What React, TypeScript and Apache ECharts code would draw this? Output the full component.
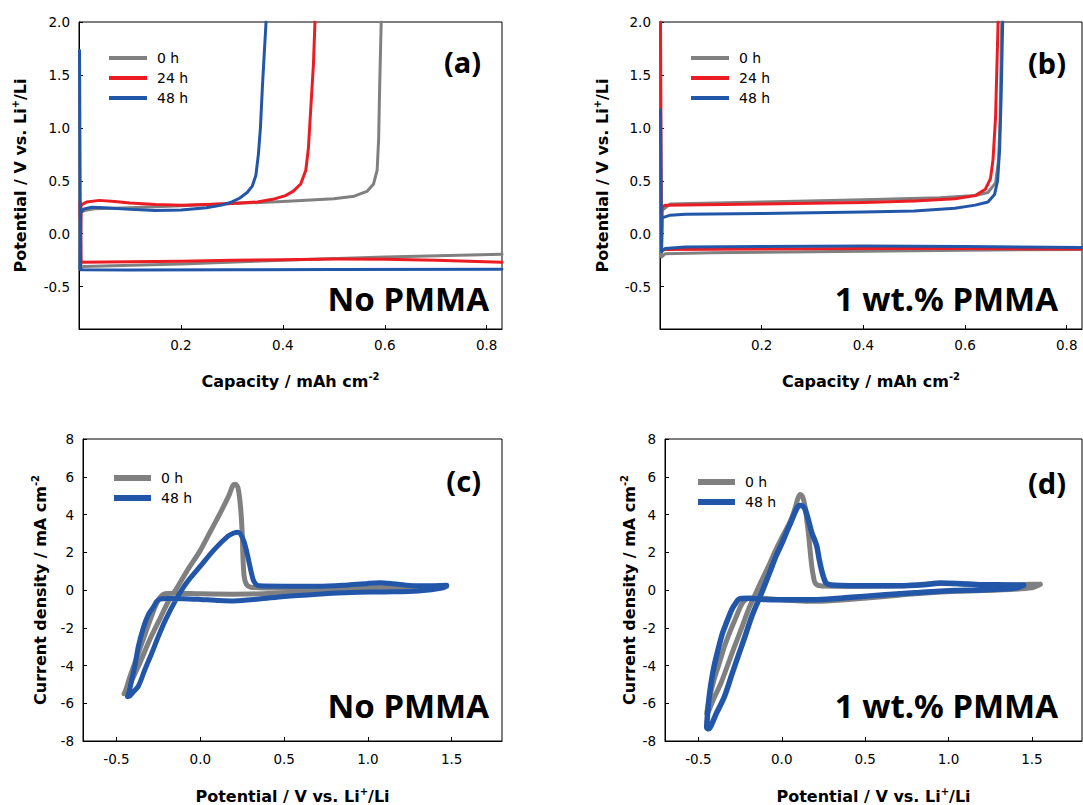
import React, { useEffect, useRef } from "react";
import * as echarts from "echarts";

// ---------- data ----------
const capXTicks = [0.2, 0.4, 0.6, 0.8];
const capYTicks = [-0.5, 0, 0.5, 1, 1.5, 2];
const cvXTicks = [-0.5, 0, 0.5, 1, 1.5];
const legendGalv = ["0 h", "24 h", "48 h"];
const legendCV = ["0 h", "48 h"];

// (a) No PMMA – plating branches
const aPlate0h = [[0.002, 0.2], [0.004, -0.32], [0.01, -0.31], [0.2, -0.285], [0.4, -0.25], [0.6, -0.22], [0.83, -0.195]];
const aPlate24h = [[0.002, 0.3], [0.004, -0.27], [0.1, -0.265], [0.2, -0.26], [0.3, -0.25], [0.4, -0.245], [0.5, -0.238], [0.6, -0.24], [0.7, -0.25], [0.83, -0.27]];
const aPlate48h = [[0.001, 1.73], [0.003, -0.34], [0.1, -0.342], [0.3, -0.34], [0.5, -0.338], [0.83, -0.335]];
// (a) No PMMA – stripping branches
const aStrip0h = [[0.003, -0.3], [0.004, 0.2], [0.01, 0.22], [0.03, 0.235], [0.1, 0.245], [0.2, 0.265], [0.3, 0.285], [0.4, 0.305], [0.5, 0.33], [0.54, 0.355], [0.565, 0.4], [0.578, 0.47], [0.585, 0.6], [0.588, 0.9], [0.59, 1.4], [0.593, 2.0]];
const aStrip24h = [[0.003, -0.27], [0.004, 0.27], [0.015, 0.3], [0.04, 0.315], [0.07, 0.305], [0.1, 0.29], [0.15, 0.275], [0.2, 0.27], [0.25, 0.275], [0.3, 0.285], [0.35, 0.3], [0.38, 0.325], [0.405, 0.36], [0.42, 0.4], [0.435, 0.47], [0.445, 0.6], [0.45, 0.8], [0.455, 1.2], [0.46, 1.6], [0.463, 2.0]];
const aStrip48h = [[0.002, -0.34], [0.003, 0.2], [0.01, 0.235], [0.025, 0.25], [0.05, 0.245], [0.1, 0.23], [0.15, 0.22], [0.2, 0.225], [0.25, 0.245], [0.28, 0.27], [0.3, 0.3], [0.315, 0.335], [0.33, 0.39], [0.34, 0.45], [0.347, 0.55], [0.352, 0.75], [0.356, 1.0], [0.36, 1.4], [0.367, 2.0]];

// (b) 1 wt.% PMMA – plating branches
const bPlate0h = [[0.002, 0.22], [0.003, -0.22], [0.01, -0.19], [0.1, -0.18], [0.2, -0.175], [0.4, -0.165], [0.6, -0.155], [0.83, -0.148]];
const bPlate24h = [[0.001, 2.0], [0.003, -0.15], [0.01, -0.15], [0.2, -0.145], [0.4, -0.14], [0.6, -0.14], [0.83, -0.145]];
const bPlate48h = [[0.001, 1.17], [0.003, -0.17], [0.01, -0.14], [0.05, -0.125], [0.2, -0.12], [0.4, -0.115], [0.6, -0.12], [0.83, -0.13]];
// (b) 1 wt.% PMMA – stripping branches
const bStrip0h = [[0.003, -0.2], [0.004, 0.22], [0.02, 0.28], [0.2, 0.3], [0.4, 0.32], [0.55, 0.34], [0.62, 0.36], [0.645, 0.39], [0.66, 0.48], [0.666, 0.7], [0.669, 1.1], [0.672, 2.0]];
const bStrip24h = [[0.003, -0.15], [0.004, 0.25], [0.01, 0.27], [0.2, 0.28], [0.4, 0.295], [0.5, 0.31], [0.58, 0.33], [0.62, 0.36], [0.64, 0.42], [0.65, 0.52], [0.655, 0.7], [0.66, 1.1], [0.665, 2.0]];
const bStrip48h = [[0.003, -0.15], [0.004, 0.15], [0.02, 0.175], [0.05, 0.185], [0.2, 0.19], [0.4, 0.205], [0.5, 0.215], [0.58, 0.24], [0.62, 0.27], [0.645, 0.3], [0.658, 0.37], [0.664, 0.5], [0.668, 0.8], [0.671, 1.3], [0.674, 2.0]];

// (c) CV No PMMA
const cCV0h = [[1.47, 0.18], [1.4, 0.08], [1.2, 0.0], [1.0, -0.03], [0.8, -0.08], [0.6, -0.14], [0.4, -0.19], [0.2, -0.22], [0.0, -0.2], [-0.15, -0.17], [-0.2, -0.18], [-0.225, -0.25], [-0.245, -0.45], [-0.27, -0.9], [-0.3, -1.6], [-0.34, -2.6], [-0.38, -3.6], [-0.42, -4.6], [-0.445, -5.3], [-0.455, -5.5], [-0.445, -5.45], [-0.41, -4.8], [-0.36, -3.85], [-0.3, -2.6], [-0.24, -1.5], [-0.19, -0.6], [-0.14, 0.1], [-0.08, 1.0], [0.0, 2.1], [0.06, 3.1], [0.12, 4.1], [0.17, 5.0], [0.195, 5.55], [0.21, 5.6], [0.225, 5.4], [0.24, 4.4], [0.25, 3.0], [0.255, 1.6], [0.262, 0.7], [0.275, 0.3], [0.3, 0.15], [0.4, 0.1], [0.6, 0.06], [0.8, 0.08], [1.0, 0.12], [1.1, 0.14], [1.3, 0.16], [1.47, 0.18]];
const cCV48h = [[1.47, 0.25], [1.45, 0.12], [1.3, -0.05], [1.1, -0.1], [0.9, -0.13], [0.7, -0.22], [0.5, -0.34], [0.35, -0.48], [0.2, -0.58], [0.1, -0.55], [0.0, -0.5], [-0.1, -0.46], [-0.2, -0.45], [-0.24, -0.48], [-0.26, -0.6], [-0.28, -0.9], [-0.31, -1.3], [-0.34, -2.0], [-0.37, -3.0], [-0.39, -4.0], [-0.41, -4.8], [-0.425, -5.4], [-0.434, -5.65], [-0.42, -5.6], [-0.4, -5.4], [-0.37, -5.1], [-0.33, -4.2], [-0.29, -3.35], [-0.25, -2.45], [-0.207, -1.57], [-0.145, -0.51], [-0.083, 0.37], [0.0, 1.26], [0.083, 2.14], [0.165, 2.85], [0.2, 3.02], [0.225, 3.06], [0.255, 2.7], [0.275, 2.1], [0.29, 1.5], [0.305, 0.9], [0.32, 0.45], [0.35, 0.22], [0.5, 0.2], [0.7, 0.2], [0.85, 0.25], [1.0, 0.35], [1.07, 0.38], [1.15, 0.33], [1.25, 0.24], [1.35, 0.22], [1.47, 0.25]];

// (d) CV 1 wt.% PMMA
const dCV0h = [[1.55, 0.3], [1.5, 0.12], [1.3, 0.0], [1.04, -0.07], [0.8, -0.2], [0.62, -0.34], [0.4, -0.5], [0.21, -0.6], [0.0, -0.52], [-0.16, -0.42], [-0.21, -0.48], [-0.24, -0.75], [-0.28, -1.57], [-0.31, -2.2], [-0.344, -3.0], [-0.375, -3.9], [-0.406, -4.76], [-0.43, -5.6], [-0.447, -6.35], [-0.45, -6.55], [-0.44, -6.45], [-0.41, -5.8], [-0.365, -4.94], [-0.325, -4.0], [-0.283, -2.99], [-0.24, -2.0], [-0.2, -1.04], [-0.16, -0.25], [-0.118, 0.55], [-0.075, 1.35], [-0.035, 2.14], [0.005, 2.85], [0.047, 3.56], [0.075, 4.2], [0.095, 4.8], [0.11, 5.06], [0.125, 4.95], [0.14, 4.4], [0.15, 3.7], [0.16, 3.0], [0.17, 2.1], [0.18, 1.26], [0.19, 0.7], [0.2, 0.37], [0.23, 0.22], [0.3, 0.2], [0.5, 0.2], [0.7, 0.22], [0.85, 0.3], [0.95, 0.35], [1.05, 0.33], [1.2, 0.27], [1.4, 0.27], [1.5, 0.3], [1.55, 0.3]];
const dCV48h = [[1.45, 0.25], [1.4, 0.1], [1.2, 0.0], [1.04, -0.02], [0.8, -0.15], [0.62, -0.25], [0.4, -0.4], [0.21, -0.51], [0.0, -0.52], [-0.1, -0.51], [-0.2, -0.44], [-0.24, -0.45], [-0.26, -0.51], [-0.28, -0.75], [-0.3, -1.04], [-0.33, -1.7], [-0.355, -2.28], [-0.38, -3.1], [-0.406, -4.05], [-0.425, -5.0], [-0.437, -5.8], [-0.445, -6.6], [-0.45, -7.3], [-0.44, -7.35], [-0.427, -7.24], [-0.39, -6.5], [-0.344, -5.65], [-0.3, -4.5], [-0.262, -3.52], [-0.22, -2.45], [-0.18, -1.4], [-0.138, -0.51], [-0.097, 0.37], [-0.065, 1.1], [-0.035, 1.79], [0.0, 2.45], [0.027, 3.03], [0.055, 3.6], [0.078, 4.09], [0.095, 4.4], [0.105, 4.48], [0.125, 4.45], [0.14, 4.27], [0.16, 3.7], [0.18, 3.03], [0.195, 2.7], [0.21, 2.32], [0.225, 1.6], [0.243, 0.9], [0.26, 0.45], [0.274, 0.32], [0.32, 0.25], [0.5, 0.22], [0.7, 0.22], [0.85, 0.28], [0.95, 0.37], [1.05, 0.35], [1.2, 0.28], [1.35, 0.27], [1.45, 0.25]];

// ---------- styling ----------
const GRAY = "#808080";
const RED = "#ec1c24";
const BLUE = "#2256a8";
const AX_FONT = "DejaVu Sans";
const BIG_FONT = "Noto Sans";

const richName = {
  t: { fontFamily: AX_FONT, fontSize: 16, fontWeight: "bold", color: "#000", lineHeight: 20 },
  s: { fontFamily: AX_FONT, fontSize: 10, fontWeight: "bold", color: "#000", lineHeight: 10, verticalAlign: "top" },
};

const nameCap = "{t|Capacity / mAh cm}{s|-2}";
const namePot = "{t|Potential / V vs. Li}{s|+}{t|/Li}";
const nameCur = "{t|Current density / mA cm}{s|-2}";

function valueAxis(gridIndex: number, min: number, max: number, opts: any) {
  const labelStyle: any = {
    fontFamily: AX_FONT,
    fontSize: 13.5,
    color: "#000",
    margin: opts.margin ?? 8,
    formatter: opts.formatter,
  };
  const tick: any = { show: true, inside: true, length: 4, lineStyle: { color: "#000", width: 1 } };
  if (opts.ticks) {
    labelStyle.customValues = opts.ticks;
    tick.customValues = opts.ticks;
  }
  const ax: any = {
    type: "value",
    gridIndex,
    min,
    max,
    axisLine: { show: true, onZero: false, lineStyle: { color: "#000", width: 1 } },
    axisTick: tick,
    axisLabel: labelStyle,
    splitLine: { show: false },
    name: opts.name,
    nameLocation: "middle",
    nameGap: opts.nameGap,
    nameTextStyle: { rich: richName },
  };
  if (opts.interval) ax.interval = opts.interval;
  return ax;
}

function line(name: string, data: number[][], idx: number, color: string, width: number, smooth: any = false) {
  return {
    type: "line",
    name,
    data,
    xAxisIndex: idx,
    yAxisIndex: idx,
    showSymbol: false,
    symbol: "none",
    smooth,
    lineStyle: { color, width, cap: "round", join: "round" },
    itemStyle: { color },
    color,
    silent: true,
  };
}

function legendAt(left: number, top: number, data: string[], h: number, w: number) {
  return {
    left,
    top,
    orient: "vertical",
    data,
    icon: "rect",
    itemWidth: w,
    itemHeight: h,
    itemGap: 0,
    padding: 0,
    selectedMode: false,
    itemStyle: { borderWidth: 0 },
    textStyle: { fontFamily: AX_FONT, fontSize: 14, color: "#000", lineHeight: 20, padding: [0, 0, 0, 5] },
  };
}

function label(text: string, x: number, y: number, size: number) {
  return {
    type: "text",
    x,
    y,
    style: {
      text,
      fontFamily: BIG_FONT,
      fontSize: size,
      fontWeight: "bold",
      fill: "#000",
      textAlign: "right",
      align: "right",
      verticalAlign: "middle",
      textVerticalAlign: "middle",
    },
  };
}

const fmt1 = (v: number) => v.toFixed(1);
const fmt0 = (v: number) => String(v);

export default function App() {
  const ref = useRef<HTMLDivElement>(null);
  useEffect(() => {
    if (!ref.current) return;
    const chart = echarts.init(ref.current, null, { renderer: "svg" });
    const gridBase = { show: true, borderColor: "#000", borderWidth: 1, backgroundColor: "transparent", containLabel: false };
    chart.setOption({
      animation: false,
      backgroundColor: "#fff",
      grid: [
        { ...gridBase, left: 79, top: 22, width: 423, height: 307 },
        { ...gridBase, left: 660, top: 22, width: 422, height: 307 },
        { ...gridBase, left: 83, top: 439, width: 419, height: 302 },
        { ...gridBase, left: 665, top: 439, width: 417, height: 302 },
      ],
      xAxis: [
        valueAxis(0, 0, 0.83, { ticks: capXTicks, formatter: fmt1, name: nameCap, nameGap: 42, margin: 9 }),
        valueAxis(1, 0, 0.83, { ticks: capXTicks, formatter: fmt1, name: nameCap, nameGap: 42, margin: 9 }),
        valueAxis(2, -0.7, 1.8, { ticks: cvXTicks, formatter: fmt1, name: namePot, nameGap: 45, margin: 11 }),
        valueAxis(3, -0.7, 1.8, { ticks: cvXTicks, formatter: fmt1, name: namePot, nameGap: 45, margin: 11 }),
      ],
      yAxis: [
        valueAxis(0, -0.9, 2.0, { ticks: capYTicks, formatter: fmt1, name: namePot, nameGap: 49, margin: 9 }),
        valueAxis(1, -0.9, 2.0, { ticks: capYTicks, formatter: fmt1, name: namePot, nameGap: 48, margin: 9 }),
        valueAxis(2, -8, 8, { interval: 2, formatter: fmt0, name: nameCur, nameGap: 33, margin: 9 }),
        valueAxis(3, -8, 8, { interval: 2, formatter: fmt0, name: nameCur, nameGap: 26, margin: 9 }),
      ],
      legend: [
        legendAt(109, 48, legendGalv, 4, 38),
        legendAt(691, 48, legendGalv, 4, 38),
        legendAt(114, 468, legendCV, 6, 37),
        legendAt(698, 472, legendCV, 6, 37),
      ],
      series: [
        line("0 h", aPlate0h, 0, GRAY, 3),
        line("0 h", aStrip0h, 0, GRAY, 3),
        line("24 h", aPlate24h, 0, RED, 3),
        line("24 h", aStrip24h, 0, RED, 3),
        line("48 h", aPlate48h, 0, BLUE, 3),
        line("48 h", aStrip48h, 0, BLUE, 3),

        line("0 h", bPlate0h, 1, GRAY, 3),
        line("0 h", bStrip0h, 1, GRAY, 3),
        line("24 h", bPlate24h, 1, RED, 3),
        line("24 h", bStrip24h, 1, RED, 3),
        line("48 h", bPlate48h, 1, BLUE, 3),
        line("48 h", bStrip48h, 1, BLUE, 3),

        line("0 h", cCV0h, 2, GRAY, 5, 0.3),
        line("48 h", cCV48h, 2, BLUE, 5, 0.3),

        line("0 h", dCV0h, 3, GRAY, 5, 0.3),
        line("48 h", dCV48h, 3, BLUE, 5.5, 0.3),
      ],
      graphic: [
        label("(a)", 481, 61, 29),
        label("No PMMA", 489, 298, 33),
        label("(b)", 1066, 62, 29),
        label("1 wt.% PMMA", 1058, 298, 33),
        label("(c)", 481, 480, 29),
        label("No PMMA", 489, 705, 33),
        label("(d)", 1066, 482, 29),
        label("1 wt.% PMMA", 1058, 705, 33),
      ],
    });
    return () => chart.dispose();
  }, []);
  return (
    <div
      ref={ref}
      style={{ position: "absolute", left: 0, top: 0, width: 1083, height: 805, background: "#fff" }}
    />
  );
}
